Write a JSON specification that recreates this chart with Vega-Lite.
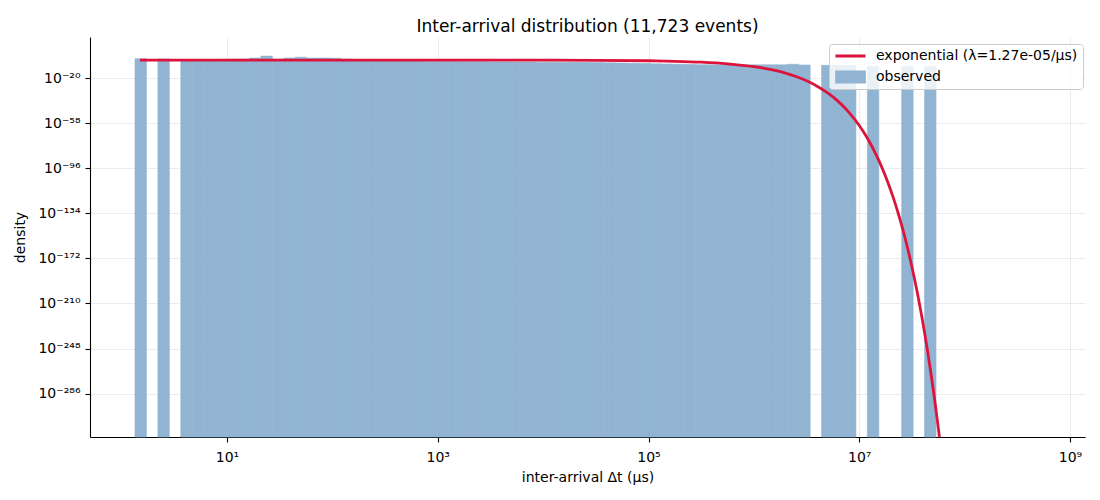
{
  "$schema": "https://vega.github.io/schema/vega-lite/v6.json",
  "width": 995,
  "height": 400,
  "autosize": {"type": "none"},
  "padding": {"left": 90, "top": 37, "right": 15, "bottom": 63},
  "title": {
    "text": "Inter-arrival distribution (11,723 events)",
    "frame": "group",
    "anchor": "middle",
    "offset": 1
  },
  "datasets": {
    "bins": [
      {"bin_start": 1.339, "bin_end": 1.720, "log10_density": -3.65},
      {"bin_start": 2.208, "bin_end": 2.836, "log10_density": -3.87},
      {"bin_start": 3.642, "bin_end": 4.677, "log10_density": -4.6},
      {"bin_start": 4.677, "bin_end": 6.005, "log10_density": -4.7},
      {"bin_start": 6.005, "bin_end": 7.712, "log10_density": -4.5},
      {"bin_start": 7.712, "bin_end": 9.899, "log10_density": -4.3},
      {"bin_start": 9.899, "bin_end": 12.71, "log10_density": -4.2},
      {"bin_start": 12.71, "bin_end": 16.32, "log10_density": -4.1},
      {"bin_start": 16.32, "bin_end": 20.96, "log10_density": -3.2},
      {"bin_start": 20.96, "bin_end": 26.92, "log10_density": -1.5},
      {"bin_start": 26.92, "bin_end": 34.56, "log10_density": -4.0},
      {"bin_start": 34.56, "bin_end": 44.39, "log10_density": -3.2},
      {"bin_start": 44.39, "bin_end": 57.00, "log10_density": -2.4},
      {"bin_start": 57.00, "bin_end": 73.19, "log10_density": -3.2},
      {"bin_start": 73.19, "bin_end": 93.98, "log10_density": -3.1},
      {"bin_start": 93.98, "bin_end": 120.7, "log10_density": -3.3},
      {"bin_start": 120.7, "bin_end": 155.0, "log10_density": -4.1},
      {"bin_start": 155.0, "bin_end": 199.0, "log10_density": -4.4},
      {"bin_start": 199.0, "bin_end": 255.5, "log10_density": -4.7},
      {"bin_start": 255.5, "bin_end": 328.1, "log10_density": -5.0},
      {"bin_start": 328.1, "bin_end": 421.3, "log10_density": -5.3},
      {"bin_start": 421.3, "bin_end": 541.0, "log10_density": -5.5},
      {"bin_start": 541.0, "bin_end": 694.8, "log10_density": -5.7},
      {"bin_start": 694.8, "bin_end": 892.2, "log10_density": -5.9},
      {"bin_start": 892.2, "bin_end": 1145.6, "log10_density": -6.0},
      {"bin_start": 1145.6, "bin_end": 1471.1, "log10_density": -6.1},
      {"bin_start": 1471.1, "bin_end": 1889.1, "log10_density": -6.2},
      {"bin_start": 1889.1, "bin_end": 2425.9, "log10_density": -6.3},
      {"bin_start": 2425.9, "bin_end": 3115.2, "log10_density": -6.3},
      {"bin_start": 3115.2, "bin_end": 4000.3, "log10_density": -6.4},
      {"bin_start": 4000.3, "bin_end": 5136.9, "log10_density": -6.4},
      {"bin_start": 5136.9, "bin_end": 6591.6, "log10_density": -6.5},
      {"bin_start": 6591.6, "bin_end": 8464.8, "log10_density": -6.5},
      {"bin_start": 8464.8, "bin_end": 10870, "log10_density": -6.6},
      {"bin_start": 10870, "bin_end": 13959, "log10_density": -6.6},
      {"bin_start": 13959, "bin_end": 17925, "log10_density": -6.7},
      {"bin_start": 17925, "bin_end": 23018, "log10_density": -6.8},
      {"bin_start": 23018, "bin_end": 29558, "log10_density": -6.9},
      {"bin_start": 29558, "bin_end": 37957, "log10_density": -7.0},
      {"bin_start": 37957, "bin_end": 48742, "log10_density": -7.2},
      {"bin_start": 48742, "bin_end": 62591, "log10_density": -7.4},
      {"bin_start": 62591, "bin_end": 80376, "log10_density": -7.6},
      {"bin_start": 80376, "bin_end": 103180, "log10_density": -7.8},
      {"bin_start": 103180, "bin_end": 132530, "log10_density": -8.0},
      {"bin_start": 132530, "bin_end": 170100, "log10_density": -8.2},
      {"bin_start": 170100, "bin_end": 218440, "log10_density": -8.4},
      {"bin_start": 218440, "bin_end": 280510, "log10_density": -8.6},
      {"bin_start": 280510, "bin_end": 360210, "log10_density": -8.8},
      {"bin_start": 360210, "bin_end": 462570, "log10_density": -8.9},
      {"bin_start": 462570, "bin_end": 594010, "log10_density": -8.9},
      {"bin_start": 594010, "bin_end": 762790, "log10_density": -8.9},
      {"bin_start": 762790, "bin_end": 979260, "log10_density": -8.9},
      {"bin_start": 979260, "bin_end": 1257500, "log10_density": -8.9},
      {"bin_start": 1257500, "bin_end": 1614800, "log10_density": -8.9},
      {"bin_start": 1614800, "bin_end": 2073600, "log10_density": -8.9},
      {"bin_start": 2073600, "bin_end": 2662800, "log10_density": -8.4},
      {"bin_start": 2662800, "bin_end": 3419500, "log10_density": -9.0},
      {"bin_start": 4389900, "bin_end": 5636800, "log10_density": -9.3},
      {"bin_start": 5636800, "bin_end": 7238500, "log10_density": -9.3},
      {"bin_start": 7238500, "bin_end": 9294900, "log10_density": -9.4},
      {"bin_start": 11937000, "bin_end": 15329000, "log10_density": -10.0},
      {"bin_start": 25270000, "bin_end": 32448000, "log10_density": -10.1},
      {"bin_start": 41669000, "bin_end": 53509000, "log10_density": -10.2}
    ],
    "curve": [
      {"t": 1.49, "log10_density": -4.896},
      {"t": 3, "log10_density": -4.896},
      {"t": 10, "log10_density": -4.896},
      {"t": 100, "log10_density": -4.897},
      {"t": 1000, "log10_density": -4.902},
      {"t": 10000, "log10_density": -4.951},
      {"t": 31623, "log10_density": -5.071},
      {"t": 100000, "log10_density": -5.448},
      {"t": 177828, "log10_density": -5.877},
      {"t": 316228, "log10_density": -6.640},
      {"t": 562341, "log10_density": -7.998},
      {"t": 1000000, "log10_density": -10.412},
      {"t": 1258925, "log10_density": -11.840},
      {"t": 1584893, "log10_density": -13.638},
      {"t": 1995262, "log10_density": -15.901},
      {"t": 2511886, "log10_density": -18.751},
      {"t": 3162278, "log10_density": -22.338},
      {"t": 3981072, "log10_density": -26.854},
      {"t": 5011872, "log10_density": -32.540},
      {"t": 6309573, "log10_density": -39.697},
      {"t": 7943282, "log10_density": -48.708},
      {"t": 10000000, "log10_density": -60.052},
      {"t": 11220185, "log10_density": -66.781},
      {"t": 12589254, "log10_density": -74.332},
      {"t": 14125375, "log10_density": -82.804},
      {"t": 15848932, "log10_density": -92.311},
      {"t": 17782794, "log10_density": -102.977},
      {"t": 19952623, "log10_density": -114.946},
      {"t": 21134890, "log10_density": -121.47},
      {"t": 22387211, "log10_density": -128.374},
      {"t": 23713737, "log10_density": -135.69},
      {"t": 25118864, "log10_density": -143.440},
      {"t": 26607251, "log10_density": -151.65},
      {"t": 28183829, "log10_density": -160.345},
      {"t": 29853826, "log10_density": -169.56},
      {"t": 31622777, "log10_density": -179.312},
      {"t": 33496544, "log10_density": -189.65},
      {"t": 35481339, "log10_density": -200.593},
      {"t": 37583740, "log10_density": -212.19},
      {"t": 39810717, "log10_density": -224.472},
      {"t": 42169650, "log10_density": -237.49},
      {"t": 44668359, "log10_density": -251.265},
      {"t": 47315125, "log10_density": -265.87},
      {"t": 50118723, "log10_density": -281.327},
      {"t": 52480746, "log10_density": -294.36},
      {"t": 53703180, "log10_density": -301.097},
      {"t": 54954087, "log10_density": -308.00},
      {"t": 56234133, "log10_density": -315.057},
      {"t": 56885293, "log10_density": -318.65},
      {"t": 57543994, "log10_density": -322.281},
      {"t": 58000000, "log10_density": -324.8}
    ]
  },
  "encoding": {
    "x": {
      "type": "quantitative",
      "title": "inter-arrival Δt (µs)",
      "scale": {"type": "log", "domain": [0.501, 1.387e9], "nice": false},
      "axis": {
        "values": [10, 1000, 100000, 10000000, 1000000000],
        "labelPadding": 8,
        "titlePadding": 6,
        "labelExpr": "'10' + replace(replace(replace(replace(replace(replace(replace(replace(replace(replace(replace('' + round(log(datum.value) / LN10), regexp('-', 'g'), '⁻'), regexp('0', 'g'), '⁰'), regexp('1', 'g'), '¹'), regexp('2', 'g'), '²'), regexp('3', 'g'), '³'), regexp('4', 'g'), '⁴'), regexp('5', 'g'), '⁵'), regexp('6', 'g'), '⁶'), regexp('7', 'g'), '⁷'), regexp('8', 'g'), '⁸'), regexp('9', 'g'), '⁹')"
      }
    },
    "y": {
      "type": "quantitative",
      "title": "density",
      "scale": {"domain": [-322.6, 14.59], "nice": false, "zero": false},
      "axis": {
        "values": [-20, -58, -96, -134, -172, -210, -248, -286],
        "labelPadding": 5,
        "labelDy": 2,
        "titlePadding": 10,
        "labelExpr": "'10' + replace(replace(replace(replace(replace(replace(replace(replace(replace(replace(replace('' + datum.value, regexp('-', 'g'), '⁻'), regexp('0', 'g'), '⁰'), regexp('1', 'g'), '¹'), regexp('2', 'g'), '²'), regexp('3', 'g'), '³'), regexp('4', 'g'), '⁴'), regexp('5', 'g'), '⁵'), regexp('6', 'g'), '⁶'), regexp('7', 'g'), '⁷'), regexp('8', 'g'), '⁸'), regexp('9', 'g'), '⁹')"
      }
    }
  },
  "layer": [
    {
      "data": {"name": "bins"},
      "mark": {"type": "bar", "stroke": "#90b4d2", "strokeWidth": 0.6},
      "encoding": {
        "x": {"field": "bin_start", "type": "quantitative"},
        "x2": {"field": "bin_end"},
        "y": {"field": "log10_density", "type": "quantitative"},
        "y2": {"datum": -322.6},
        "color": {
          "datum": "observed",
          "type": "nominal",
          "scale": {
            "domain": ["exponential (λ=1.27e-05/µs)", "observed"],
            "range": ["#dc143c", "#90b4d2"]
          },
          "legend": {
            "title": null,
            "orient": "none",
            "legendX": 739,
            "legendY": 7,
            "zindex": 2,
            "fillColor": "rgba(255,255,255,0.8)",
            "strokeColor": "#cccccc",
            "cornerRadius": 3,
            "padding": 5,
            "labelFontSize": 14,
            "labelLimit": 300,
            "labelOffset": 9,
            "symbolSize": 900,
            "clipHeight": 14,
            "rowPadding": 7,
            "symbolType": {"expr": "datum.value === 'observed' ? 'M-0.93,-0.34H0.93V0.34H-0.93Z' : 'M-1,0H1'"},
            "symbolStrokeColor": {"expr": "datum.value === 'observed' ? 'transparent' : '#dc143c'"},
            "symbolStrokeWidth": 2.8,
            "symbolOpacity": 1
          }
        }
      }
    },
    {
      "data": {"name": "curve"},
      "mark": {"type": "line", "strokeWidth": 2.8, "clip": true, "interpolate": "monotone"},
      "encoding": {
        "x": {"field": "t", "type": "quantitative"},
        "y": {"field": "log10_density", "type": "quantitative"},
        "color": {"datum": "exponential (λ=1.27e-05/µs)", "type": "nominal"}
      }
    }
  ],
  "config": {
    "font": "DejaVu Sans",
    "view": {"stroke": null},
    "title": {"fontSize": 17, "fontWeight": "normal", "color": "black", "font": "DejaVu Sans"},
    "axis": {
      "zindex": 1,
      "labelFont": "DejaVu Sans",
      "titleFont": "DejaVu Sans",
      "labelFontSize": 14,
      "titleFontSize": 14,
      "titleFontWeight": "normal",
      "labelColor": "black",
      "titleColor": "black",
      "tickColor": "black",
      "domainColor": "black",
      "tickSize": 5,
      "tickWidth": 1.1,
      "domainWidth": 1.1,
      "gridColor": "#414141",
      "gridOpacity": 0.126,
      "gridWidth": 0.8
    },
    "legend": {"labelFont": "DejaVu Sans", "labelColor": "black"}
  }
}
